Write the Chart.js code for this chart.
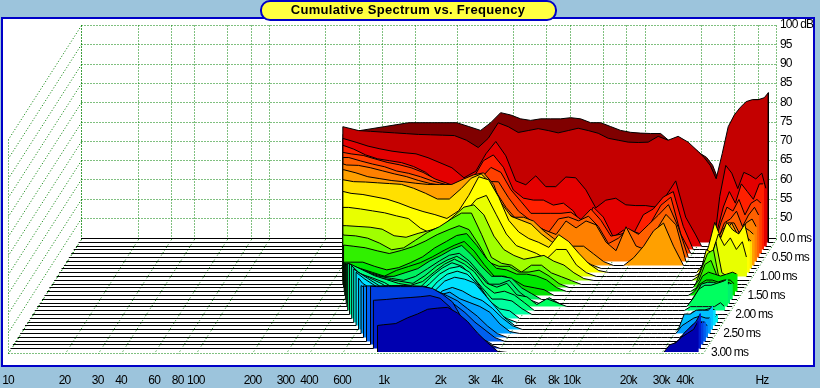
<!DOCTYPE html>
<html><head><meta charset="utf-8">
<style>html,body{margin:0;padding:0;background:#9CC4DC}canvas{display:block}</style>
<script src="https://cdn.jsdelivr.net/npm/chart.js@4"></script>
</head><body><canvas id="c" width="820" height="388"></canvas>
<script>
const N = null;
const freqTicks = [10,20,30,40,60,80,100,200,300,400,600,1000,2000,3000,4000,6000,8000,10000,20000,30000,40000,103000];
const freqLabels = ['10','20','30','40','60','80','100','200','300','400','600','1k','2k','3k','4k','6k','8k','10k','20k','30k','40k','Hz'];
const dbTicks = [50,55,60,65,70,75,80,85,90,95,100];
const msLabels = ['0.0 ms','0.50 ms','1.00 ms','1.50 ms','2.00 ms','2.50 ms','3.00 ms'];
const titleText = 'Cumulative Spectrum vs. Frequency';
const freqs = [309,358,414,480,556,644,746,864,1000,1159,1340,1516,1712,1936,2188,2473,2795,3160,3570,4040,4560,5160,5830,6590,7450,8420,9520,10760,12160,13740,15530,17550,19840,21360,22990,24750,26640,28680,30870,33230,35770,38500,41440,44600,46900];
const leftHz = [248,255,263,271,279,288,296,305,314,324,334,344,354,368,382,396,412,428,445,463,488,516,545,578,614,652,692,740,801,855,926];
const leftDb = [72,75,73,72,71.2,70.9,70.3,69.8,68,66,62.9,59.2,58,56,52.6,53.3,54.3,55.2,56.1,57.2,58.2,58.7,58.9,58.8,58.3,57.4,58.4,59.4,60.1,57.5,52];
const s00 = [73,73.5,74,74.5,75,75,75,75,75,74,73,75,77.6,77,76,75.6,76,76,76,76.3,76,75,75,74,73,72.5,72.3,72.2,72.2,70,70,69,67,66,64,60,67,74,77,79,80.5,81,81,N,N];
const s01 = [74,73.8,73.6,73.4,73.2,73,72.9,72.8,72.7,71.5,69.6,72,76,75,73.5,74,74.5,74,73.4,74,74.6,74,73.3,72,71.5,71,70.9,71,72.5,71.5,72.5,71,68.6,67,65,61.5,68,75,78,80,81.5,82,82,82.5,83.8];
const s02 = [72,71,70.3,69.7,69.3,69,68,66.7,65.4,62.8,64.5,69,72.2,68.5,62,61,63.3,60.5,60.5,63,62.8,59.7,55,57,57.5,55.8,55.6,55.6,55.2,58,62,52.6,48,45,45,45,58,66,64,60,64.2,63.5,62.5,64,60];
const s03 = [71,69.5,68.5,68,67.5,66.5,65,62.5,61,60.5,63.5,68,69.5,66.3,60.4,58.3,57.8,57.8,56.5,57,55,50.8,56,53.4,48.2,50,49,54,55.5,58.6,60,51,45,45,45,45,50,56,60,57,62,60,58,62,62];
const s04 = [70.8,70.4,69.5,68.6,68,67.2,66,64.3,63.2,62,62.5,64.5,67.3,66,61.5,58.5,55.4,55.4,55.4,55.4,55.7,53.8,56.5,53.6,49.5,50,51,50,53,57.5,59.6,50,45,45,45,45,48,53,57,56,59,55,58,59,58];
const s05 = [70.9,70,69.2,68.5,67.4,66.8,65.9,64.8,64,62.3,60.8,62,64.7,64.6,60.5,57,55,53,51.5,55,55.5,54.5,55.7,53,48.6,50,52.5,51,53.5,56,58.7,52.8,45,45,45,45,47,50,54,55,57,53,56,58,56];
const s06 = [70,69.9,69.3,68.5,67.7,67,66,65.2,64.7,63.5,62,65,66,63,59,56,55,54,53,52,55.5,53.7,55.5,54.5,50,47.8,54,49,48,53,57.2,54.5,45,45,45,45,46,50,53,55,55,52,55,56,54];
const s07 = [69.8,69,68,67.5,67,66.7,66.3,66,66,66,67.4,68.5,69,66,59.1,57.5,57.5,56.5,54,52,50,50,50,48,46,45,45,47,50,54,56,50,45,45,45,45,45,47,52,54,56,53,55,54,53];
const s08 = [67.6,67.5,67.4,67.2,67,66.8,65.8,64.5,63,63,65.7,68.4,69.5,67,62,58.5,57.5,56.5,54,52,50.5,49,47.5,46,45,45,45,45,45,45,45,45,45,45,45,45,45,47,51,52,55,52,54,53,52];
const s09 = [66,65.5,65.2,64.6,64,63,61.8,60.8,60,59,61,65,69.8,69,64.5,58.5,55.5,53.8,52.8,51.5,54.8,53,50,47.3,45.5,45,45,45,45,45,45,45,45,45,45,45,47,52,58,54,58,56,55,57.5,53];
const s10 = [63,62.9,62.5,62,61.5,60.7,60,57.5,56,57,60,62,65,66,61,56,53,52,51,49.5,52,52,48,46,45,45,45,45,45,45,45,45,45,45,45,45,46,52,51,56,53,55,52,54,50];
const s11 = [59.5,59.2,59,58.8,58.3,56.6,56.2,57.2,58,59,61.7,64,64.6,62,56.5,53,51.5,50.5,51,51.5,50,49,47,45.5,45,45,45,45,45,45,45,45,45,45,45,45,46,50,50,55,47,46,45,45,45];
const s12 = [58,57.8,57.6,57,55.7,54,54.5,56.5,58.5,60,62,63.5,63.5,58,52,50.5,50,48.2,50,50,48,47,46,45,45,45,45,45,45,45,45,45,45,45,45,45,45,49,53,54,46,45,45,45,45];
const s13 = [56,56,55.7,55.3,54.5,53.8,54.6,55.6,57,58.7,60,61,60,56,51.5,50.5,50.5,49,49,49.5,48,46,45,45,45,45,45,45,45,45,45,45,45,45,45,45,45,47,51,52,48,46,45,45,45];
const s14 = [52.6,52.6,52.6,52.6,51.5,50.6,51.2,52.5,54,56.3,58,59.5,60,57,53.5,51,50.6,49.5,49.5,49,48,46,45,45,45,45,45,45,45,45,45,45,45,45,45,45,45,46,49,50,49.5,49,49.5,50,49.5];
const s15 = [N,N,53,52,51,50,51.5,52.5,53.5,55,56.7,58,59,56.5,53,50,50,49,47.5,47,46.5,45,45,45,45,45,45,45,45,45,45,45,45,45,45,45,45,46,48,49,49,48.5,49,49,48];
const s16 = [N,N,54,53,52,51,51,52,53,55,56.5,58,59,56.5,53.5,51,51,50.5,48,46.5,45,45,45,45,45,45,45,45,45,45,45,45,45,45,45,45,45,45,47,49,49.5,49,49.5,49.5,49];
const s17 = [N,N,N,54,53,52,51.5,51,52,54,56,57.5,58,56,53,50,50,51,48,46,45,46.5,45,45,45,45,45,45,45,45,45,45,45,45,45,45,45,45,47,50,50.5,50.5,50,50.5,50];
const s18 = [N,N,N,55.5,54,52.5,52,51.5,51,53,55.5,57,58,56.5,54,51,50,51,48,47.5,45.5,47,46,45,45,45,45,45,45,45,45,45,45,45,45,45,45,45,47,49.5,50.5,50.5,51,51.5,52];
const s19 = [N,N,N,57,55.5,54,53,52,51.5,52.5,55,57,58.3,57,55,51.5,49.5,50,49,47,45,45,45,45,45,45,45,45,45,45,45,45,45,45,45,45,45,45,46,46,46,46,46,47,46];
const s20 = [N,N,N,N,55.5,54.5,53.3,51.5,50.5,52,55,57,58.4,57.5,55,52,49,49,48.5,46.5,45,45,45,45,45,45,45,45,45,45,45,45,45,45,45,45,45,45,45,45,46,46,45,45,45];
const s21 = [N,N,N,N,57,55.5,54,52,50.5,51.5,54,56.5,58,58.5,57,53.5,49.5,47.5,47,45,45,45,45,45,45,45,45,45,45,45,45,45,45,45,45,45,45,45,45,45,45,45,45,45,45];
const s22 = [N,N,N,N,58.5,56.5,54.5,52.5,51,50,52.5,55.5,57.5,58.3,57.5,55,51.5,47.5,46,45,45,45,45,45,45,45,45,45,45,45,45,45,45,45,45,45,45,45,45,45,45,45,45,46,47];
const s23 = [N,N,N,N,N,57,55,53,51,49,50.5,54,56.5,57.5,57,56,53,50,47,45,45,45,45,45,45,45,45,45,45,45,45,45,45,45,45,45,45,45,45,47,48.5,49,49,49.5,49];
const s24 = [N,N,N,N,N,57,55,53,51,49.5,49,52,55,55.9,55,53.5,52.5,50.5,48,46,45,45,45,45,45,45,45,45,45,45,45,45,45,45,45,45,45,45,45,49,49,50,50,50,51];
const s25 = [N,N,N,N,N,N,56,55,54,53,52.5,54,55,55.7,54,53,52,50.5,47.5,45.5,45,45,45,45,45,45,45,45,45,45,45,45,45,45,45,45,45,45,45,47,48,49,49.5,49,49];
const s26 = [N,N,N,N,N,N,58,58,58,58,58,58,57,55.8,54.5,52.5,50.5,48,46,45,45,45,45,45,45,45,45,45,45,45,45,45,45,45,45,45,45,45,45,45,46,48,49,49,48];
const s27 = [N,N,N,N,N,N,59.4,59.4,59.5,59.5,59.4,59.3,58,56,54.5,52.5,50,48,46,45,45,45,45,45,45,45,45,45,45,45,45,45,45,45,45,45,45,45,45,45,46,47,49,50,50];
const s28 = [N,N,N,N,N,N,N,60,60,60,60,60,59.5,58,56,51.5,48.5,46.5,45,45,45,45,45,45,45,45,45,45,45,45,45,45,45,45,45,45,45,45,45,45,46,48,50,50,51];
const s29 = [N,N,N,N,N,N,N,57.5,57.7,58,58.2,58.4,58.7,58,55.7,52,49,47,46,45,45,45,45,45,45,45,45,45,45,45,45,45,45,45,45,45,45,45,45,46,47,49,50.5,52,54];
const s30 = [N,N,N,N,N,N,N,N,52.2,52.5,54,55,56.2,56.5,56.7,55.2,53,50,47.5,45.3,45,45,45,45,45,45,45,45,45,45,45,45,45,45,45,45,45,45,45,47,47.5,49,50,51,53];
const sliceColors = ['#800000','#C40000','#E40000','#FF2000','#FF4000','#FF6000','#FF8000','#FFA000','#FFE000','#FFFF00','#E8FF00','#A0FF00','#60FF00','#30F000','#00E800','#00E000','#00F060','#00F070','#00FF60','#00FF80','#00FFA0','#00FFC0','#00F0E0','#00E0FF','#00C0FF','#00A0FF','#0080F8','#0060F0','#0040E0','#0020D0','#0000B0'];
const slices = [s00,s01,s02,s03,s04,s05,s06,s07,s08,s09,s10,s11,s12,s13,s14,s15,s16,s17,s18,s19,s20,s21,s22,s23,s24,s25,s26,s27,s28,s29,s30];

// oblique projection of (frequency, time) onto the log-x / linear-y scales
const LOW = 10, HIGH = 50000, DEPTH = 0.3885, Y_MIN = 15.29, FLOOR = 45;
const K = 327 / (100 - Y_MIN);
const X_MAX = HIGH * Math.pow(10, DEPTH);
const mult = i => Math.pow(10, DEPTH * (30 - i) / 30);
const floorDb = i => 100 - (213.5 + Math.round(3.8 * i)) / K;
function slicePoints(i) {
  const m = mult(i), fl = floorDb(i), pts = [];
  let lastF = leftHz[i];
  pts.push({x: LOW * m, y: fl}, {x: leftHz[i] * m, y: fl}, {x: leftHz[i] * m, y: fl + leftDb[i] - FLOOR});
  freqs.forEach((f, j) => {
    const v = slices[i][j];
    if (v !== null && f > leftHz[i]) { pts.push({x: f * m, y: fl + v - FLOOR}); lastF = f; }
  });
  pts.push({x: lastF * m, y: fl}, {x: HIGH * m, y: fl});
  return pts;
}
const datasets = slices.map((_, i) => {
  const data = slicePoints(i), dropAt = data.length - 3;
  return {
    data, showLine: true, tension: 0, pointRadius: 0,
    borderColor: '#000', borderWidth: 1, backgroundColor: sliceColors[i],
    segment: {borderColor: ctx => (i > 1 && ctx.p0DataIndex === dropAt) ? sliceColors[i] : undefined},
    fill: {value: floorDb(i)}, order: 100 - i
  };
});

const FONT = '"Liberation Sans",sans-serif';
const frame = {
  id: 'frame',
  beforeDraw(c) {
    const g = c.ctx;
    g.save();
    g.fillStyle = '#9CC4DC'; g.fillRect(0, 0, 820, 388);
    g.fillStyle = '#0000C8'; g.fillRect(1, 17, 814, 350);
    g.fillStyle = '#FFFFFF'; g.fillRect(3, 19, 810, 346);
    g.restore();
    g.letterSpacing = '-0.8px';
  },
  beforeDatasetsDraw(c) {
    const g = c.ctx, xs = c.scales.x, ys = c.scales.y, m0 = mult(0);
    const px = v => Math.round(xs.getPixelForValue(v)) + 0.5;
    const py = v => Math.round(ys.getPixelForValue(v)) + 0.5;
    const line = (a, b, p, q) => { g.beginPath(); g.moveTo(a, b); g.lineTo(p, q); g.stroke(); };
    g.save();
    g.strokeStyle = '#008000'; g.lineWidth = 1; g.setLineDash([1, 2]);
    const yF = py(floorDb(0)), yB = py(floorDb(30));
    const dY = yB - yF;
    dbTicks.forEach(d => {
      const y = py(d);
      line(px(LOW * m0), y, px(X_MAX), y);
      line(px(LOW * m0), y, px(LOW), y + dY);
    });
    const verts = freqTicks.slice(0, 21).concat([LOW]);
    verts.forEach(f => {
      line(px(f * m0), py(100), px(f * m0), yF);
      line(px(f * m0), yF, px(f), yB);
    });
    line(px(X_MAX), py(100), px(X_MAX), yF);
    line(px(X_MAX), yF, px(HIGH), yB);
    line(px(LOW), yB, px(HIGH), yB);
    line(px(LOW), py(100) + dY, px(LOW), yB);
    g.restore();
  },
  afterDraw(c) {
    const g = c.ctx, xs = c.scales.x, ys = c.scales.y;
    g.save();
    g.fillStyle = '#000'; g.font = '12px ' + FONT; g.textBaseline = 'middle'; g.textAlign = 'left';
    msLabels.forEach((t, n) => {
      const i = n * 5;
      g.fillText(t, xs.getPixelForValue(HIGH * mult(i)) + (n ? 8 : 4), ys.getPixelForValue(floorDb(i)) + 0.5);
    });
    g.letterSpacing = '0px';
    g.beginPath(); g.roundRect(261, 1, 295, 19, 9);
    g.fillStyle = '#FFFF40'; g.fill();
    g.strokeStyle = '#0000C8'; g.lineWidth = 2; g.stroke();
    g.fillStyle = '#000'; g.font = 'bold 13px "Liberation Sans",sans-serif'; g.textAlign = 'center';
    g.letterSpacing = '0.3px';
    g.fillText(titleText, 408, 10.5);
    g.restore();
  }
};

new Chart(document.getElementById('c'), {
  type: 'scatter',
  data: {datasets},
  plugins: [frame],
  options: {
    responsive: false, animation: false, events: [],
    layout: {padding: {left: 8, top: 25, right: 0, bottom: 0}},
    plugins: {legend: {display: false}, tooltip: {enabled: false}, title: {display: false}},
    scales: {
      x: {
        type: 'logarithmic', min: LOW, max: X_MAX, position: 'bottom',
        grid: {display: false, drawTicks: false}, border: {display: false},
        afterBuildTicks: s => { s.ticks = freqTicks.map(v => ({value: v})); },
        afterFit: s => { s.height = 36; s.paddingLeft = 0; s.paddingRight = 0; },
        ticks: {autoSkip: false, maxRotation: 0, minRotation: 0, padding: 21, color: '#000',
          font: {family: FONT, size: 12}, callback: (v, i) => freqLabels[i]}
      },
      y: {
        type: 'linear', min: Y_MIN, max: 100, position: 'right',
        grid: {display: false, drawTicks: false}, border: {display: false},
        afterBuildTicks: s => { s.ticks = dbTicks.map(v => ({value: v})); },
        afterFit: s => { s.width = 44; s.paddingTop = 0; s.paddingBottom = 0; },
        ticks: {padding: 4, color: '#000', font: {family: FONT, size: 12},
          callback: v => v === 100 ? '100 dB' : String(v)}
      }
    }
  }
});
</script></body></html>
